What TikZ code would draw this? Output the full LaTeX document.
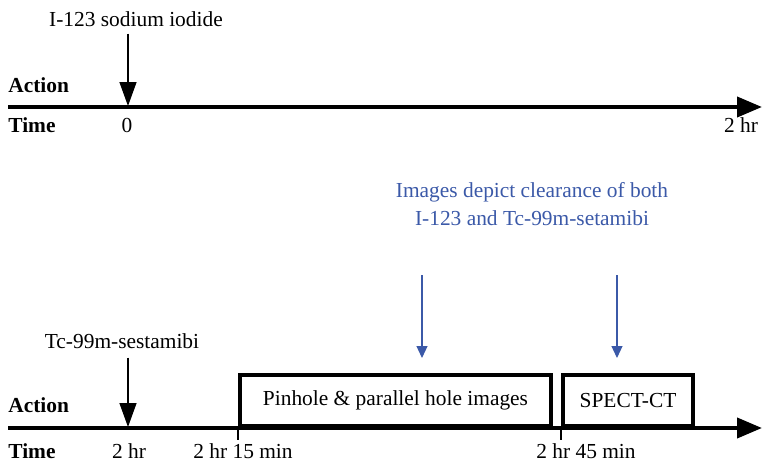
\documentclass[tikz,border=0pt]{standalone}
\usepackage{fontspec}
\setmainfont{Liberation Serif}
\usetikzlibrary{arrows.meta,positioning}
\definecolor{noteblue}{RGB}{59,89,168}
\tikzset{
	timeline/.style={
		line width=2pt,
		-{Triangle[length=12.5pt,width=10pt]},
	},
	dose/.style={
		line width=0.7pt,
		-{Triangle[length=12pt,width=8.5pt]},
	},
	note/.style={
		draw=noteblue,
		line width=0.6pt,
		-{Triangle[length=6pt,width=5.5pt]},
	},
	txt/.style={
		inner sep=0pt,
		anchor=base,
		font=\fontsize{10.7}{12.8}\selectfont,
	},
	rowname/.style={
		txt,
		anchor=base west,
		font=\fontsize{10.7}{12.8}\selectfont\bfseries,
	},
	scanbox/.style={
		draw,
		line width=2pt,
		anchor=south west,
		inner sep=0pt,
		font=\fontsize{10.7}{12.8}\selectfont,
	},
	tick/.style={
		line width=0.8pt,
	},
}

\begin{document}
\begin{tikzpicture}[x=0.5pt, y=-0.5pt]
				\useasboundingbox (0,0) rectangle (762,461);
				% first day: iodide
				\coordinate (start1) at (8,107);
				\coordinate (end1) at (762,107);
				\coordinate (inj1) at (128,106);
				\node [txt] (iodide) at (136,26) {I-123 sodium iodide};
				\node [rowname] (action1) at (8,92) {Action};
				\node [rowname] (time1) at (8,132) {Time};
				\node [txt] (zero) at (127,132) {0};
				\node [txt] (twohr1) at (741,132) {2 hr};
				
				% second part: sestamibi and imaging
				\coordinate (start2) at (8,428);
				\coordinate (end2) at (762,428);
				\coordinate (inj2) at (128,427);
				\coordinate (t215) at (238,428);
				\coordinate (t245) at (561,428);
				\node [txt] (mibi) at (122,348) {Tc-99m-sestamibi};
				\node [rowname] (action2) at (8,412) {Action};
				\node [rowname] (time2) at (8,458) {Time};
				\node [txt] (twohr2) at (129,458) {2 hr};
				\node [txt] (lbl215) at (243,458) {2 hr 15 min};
				\node [txt] (lbl245) at (586,458) {2 hr 45 min};
				\node [scanbox, minimum width=155.5pt, minimum height=25.5pt] (planar) at (t215) {Pinhole \& parallel hole images};
				\node [scanbox, minimum width=65pt, minimum height=25.5pt] (spect) at (t245) {SPECT-CT};
				
				% note above the scans
				\node [txt, text=noteblue, align=center] (clear) at (532,225) {Images depict clearance of both\\[0.8pt]I-123 and Tc-99m-setamibi};
				\coordinate (n1top) at (422,275);
				\coordinate (n1tip) at (422,358);
				\coordinate (n2top) at (617,275);
				\coordinate (n2tip) at (617,358);
				
				%arrows
				\draw [timeline] (start1) -- (end1);
				\draw [timeline] (start2) -- (end2);
				\draw [dose] (iodide.south -| inj1) ++(0,7) -- (inj1);
				\draw [dose] (mibi.south -| inj2) ++(0,9) -- (inj2);
				\draw [tick] (t215) -- ++(0,12);
				\draw [tick] (t245) -- ++(0,12);
				\draw [note] (n1top) -- (n1tip);
				\draw [note] (n2top) -- (n2tip);
			\end{tikzpicture}
\end{document}
